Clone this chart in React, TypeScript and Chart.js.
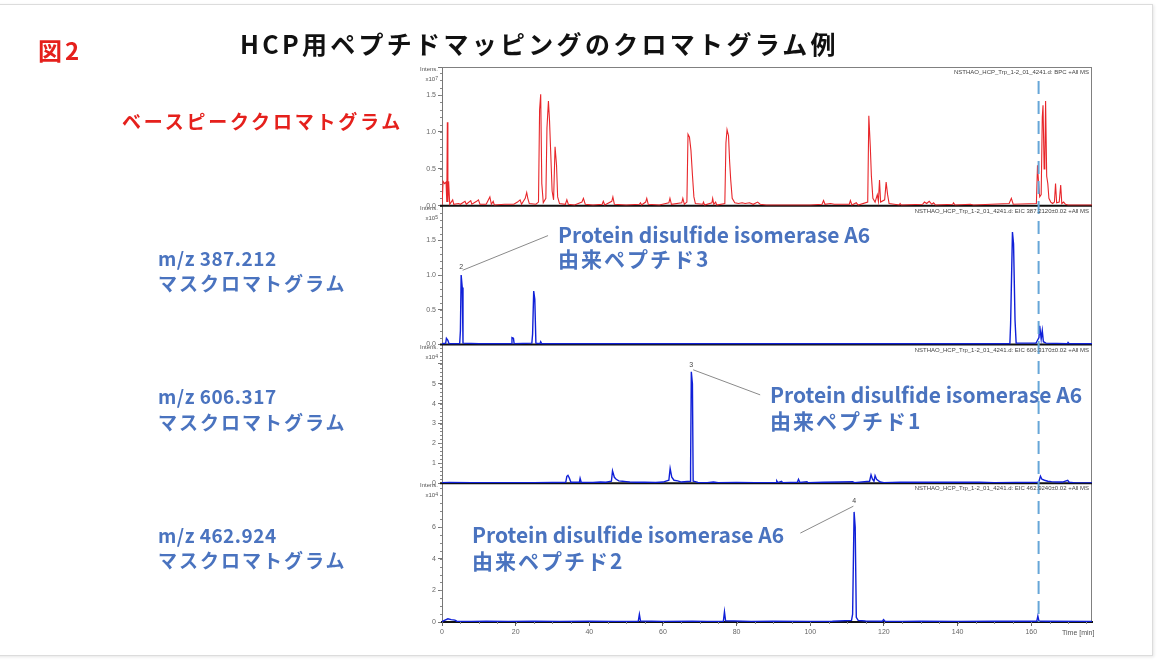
import React, { useEffect, useRef } from 'react';
import { Chart, registerables } from 'chart.js';

Chart.register(...registerables);

// ---------------- data ----------------
const timeMin = 0;
const timeMax = 176.5;
const timeStep = 20;
const markerTime = 162;

// Base peak chromatogram (intensity x10^7)
const bpcPoints: [number, number][] = [
  [0, 0.01], [0.3, 0.33], [0.7, 0.3], [1.1, 0.32], [1.3, 0.05], [1.45, 1.13], [1.6, 0.05], [1.8, 0.33], [2.1, 0.02],
  [2.9, 0.08], [3.2, 0.02], [4.5, 0.03], [5.0, 0.02], [6.25, 0.06], [6.6, 0.02], [7.8, 0.07], [8.1, 0.02], [9.4, 0.06],
  [9.9, 0.08], [10.3, 0.02], [12.0, 0.02], [13.0, 0.12], [13.4, 0.02], [13.9, 0.06], [14.2, 0.01], [17, 0.02], [19.5, 0.02],
  [20.5, 0.05], [21.2, 0.08], [21.6, 0.02], [22.6, 0.1], [23.0, 0.18], [23.3, 0.1], [23.7, 0.03], [25.5, 0.02],
  [26.2, 0.05], [26.5, 1.3], [26.8, 1.51], [27.1, 0.3], [27.5, 0.04], [28.2, 0.1], [28.5, 1.05], [28.9, 1.42], [29.2, 1.15],
  [29.5, 0.75], [29.9, 0.2], [30.3, 0.08], [30.7, 0.8], [31.1, 0.55], [31.4, 0.12], [31.9, 0.03],
  [33.5, 0.02], [33.9, 0.08], [34.3, 0.02], [36, 0.01], [38.0, 0.05], [38.4, 0.1], [38.9, 0.02], [41, 0.01], [43.5, 0.02],
  [43.8, 0.06], [44.2, 0.01], [46.1, 0.06], [46.4, 0.12], [46.8, 0.02], [50, 0.01], [53.6, 0.02], [53.9, 0.04], [54.2, 0.01],
  [55.3, 0.05], [55.6, 0.1], [56.0, 0.02], [59, 0.01], [61.6, 0.04], [61.9, 0.1], [62.3, 0.02], [65.1, 0.04], [65.4, 0.1], [65.8, 0.02],
  [66.5, 0.05], [66.8, 0.97], [67.2, 0.93], [67.6, 0.75], [68.0, 0.42], [68.4, 0.12], [68.8, 0.03],
  [70.8, 0.02], [71.0, 0.05], [71.3, 0.01], [73.3, 0.04], [73.5, 0.1], [73.8, 0.02], [74.3, 0.05], [74.6, 0.01],
  [76.8, 0.03], [77.1, 0.85], [77.4, 1.03], [77.8, 0.95], [78.1, 0.6], [78.4, 0.35], [78.8, 0.1], [79.5, 0.04], [80.5, 0.03],
  [81.5, 0.04], [82.3, 0.03], [83.5, 0.04], [84.5, 0.02], [85.7, 0.05], [86.4, 0.02], [88, 0.01],
  [95, 0.01], [100, 0.01], [103.2, 0.02], [103.6, 0.07], [104, 0.02], [105.5, 0.03], [106.5, 0.02], [110.6, 0.02], [110.9, 0.07],
  [111.3, 0.01], [112.5, 0.04], [113, 0.01],
  [115.6, 0.05], [115.9, 1.22], [116.3, 0.8], [116.6, 0.4], [117, 0.1], [117.6, 0.05], [118.2, 0.15], [118.5, 0.06], [118.8, 0.35],
  [119.1, 0.05], [120.2, 0.08], [120.6, 0.32], [121.0, 0.15], [121.4, 0.03],
  [124.2, 0.01], [124.4, 0.03], [124.7, 0.01], [130.5, 0.02], [131, 0.05], [131.6, 0.03], [132.3, 0.06], [133.0, 0.02], [133.5, 0.04],
  [134, 0.01], [138.7, 0.02], [138.9, 0.04], [139.3, 0.01], [143.5, 0.02], [144.3, 0.01], [154, 0.03], [154.6, 0.1], [155.1, 0.02],
  [161.4, 0.03], [161.7, 0.55], [162.0, 0.3], [162.3, 0.12], [162.7, 0.15], [163.0, 1.2], [163.2, 1.36], [163.5, 0.5], [163.7, 0.6],
  [163.9, 1.42], [164.2, 0.4], [164.5, 0.3], [164.8, 0.1], [165.3, 0.05], [165.8, 0.03], [166.3, 0.05], [166.6, 0.3], [166.9, 0.04],
  [167.6, 0.05], [168.0, 0.28], [168.3, 0.03], [168.8, 0.05], [169.3, 0.02], [170, 0.01], [176.5, 0.01],
];

// EIC m/z 387.212 (intensity x10^5)
const eic387Points: [number, number][] = [
  [0, 0.01], [1.0, 0.02], [1.2, 0.09], [1.6, 0.06], [1.9, 0.01], [4.8, 0.01], [5.0, 0.2], [5.2, 1.0], [5.5, 0.82], [5.7, 0.02],
  [10, 0.01], [18.8, 0.01], [19.0, 0.1], [19.4, 0.09], [19.6, 0.01], [24.4, 0.02], [24.6, 0.15], [24.9, 0.77], [25.2, 0.65],
  [25.5, 0.02], [26.6, 0.01], [26.8, 0.04], [27.1, 0.01], [40, 0.01], [100, 0.01], [154.2, 0.01], [154.4, 0.3], [154.9, 1.62],
  [155.2, 1.45], [155.6, 0.35], [155.9, 0.02], [161.3, 0.02], [161.6, 0.05], [162.1, 0.1], [162.3, 0.27], [162.7, 0.08],
  [163.0, 0.2], [163.3, 0.04], [164, 0.02], [169.8, 0.01], [170, 0.03], [170.3, 0.01], [176.5, 0.01],
];

// EIC m/z 606.317 (intensity x10^4)
const eic606Points: [number, number][] = [
  [0, 0.03], [2, 0.04], [8, 0.03], [15, 0.03], [25, 0.03], [30, 0.04], [33.6, 0.05], [33.9, 0.35], [34.2, 0.4], [34.6, 0.25],
  [35.0, 0.05], [37.3, 0.05], [37.5, 0.25], [37.8, 0.05], [41, 0.04], [43, 0.06], [44.5, 0.05], [46.0, 0.1], [46.3, 0.62],
  [46.8, 0.3], [47.3, 0.2], [48, 0.12], [49, 0.1], [50, 0.08], [51, 0.06], [53, 0.05], [55, 0.05], [58, 0.04], [60, 0.06],
  [61.6, 0.15], [61.95, 0.74], [62.4, 0.3], [63, 0.15], [64, 0.12], [65, 0.06], [67.4, 0.1], [67.5, 0.8], [67.7, 5.6], [68.0, 5.0],
  [68.2, 0.1], [68.8, 0.08], [69.5, 0.04], [72, 0.03], [73.7, 0.06], [75, 0.03], [80, 0.04], [85, 0.03], [90.7, 0.03], [90.9, 0.12],
  [91.2, 0.03], [92.2, 0.1], [92.5, 0.03], [96.5, 0.05], [96.8, 0.2], [97.2, 0.04], [99.1, 0.08], [99.4, 0.03], [103.5, 0.05],
  [107.7, 0.06], [111.5, 0.08], [112, 0.03], [116.1, 0.1], [116.5, 0.42], [116.9, 0.2], [117.3, 0.1], [117.6, 0.38], [118, 0.2],
  [119, 0.06], [120, 0.03], [124.4, 0.05], [131, 0.05], [140, 0.05], [146, 0.05], [150, 0.03], [161.8, 0.05], [162.1, 0.1],
  [162.5, 0.35], [162.9, 0.2], [163.6, 0.15], [164.5, 0.1], [165.5, 0.08], [167, 0.06], [168.5, 0.06], [169.9, 0.15], [170.3, 0.05],
  [172, 0.02], [176.5, 0.02],
];

// EIC m/z 462.924 (intensity x10^4)
const eic462Points: [number, number][] = [
  [0, 0.03], [1.6, 0.2], [2.5, 0.15], [3.5, 0.12], [4, 0.05], [8, 0.04], [12, 0.05], [18, 0.04], [25, 0.05], [32, 0.04],
  [40, 0.05], [47, 0.04], [53.3, 0.05], [53.6, 0.48], [53.9, 0.06], [60, 0.04], [68, 0.05], [72, 0.04], [76.4, 0.05],
  [76.7, 0.65], [77.0, 0.08], [84, 0.04], [90, 0.05], [100, 0.04], [106, 0.05], [111.2, 0.1], [111.5, 0.5], [111.9, 6.96],
  [112.2, 6.0], [112.5, 0.3], [113, 0.1], [115, 0.06], [119.6, 0.05], [119.9, 0.15], [120.3, 0.05], [125, 0.04], [130, 0.05],
  [140, 0.04], [150, 0.05], [161.5, 0.05], [161.8, 0.38], [162.1, 0.06], [164, 0.05], [176.5, 0.03],
];

const panelMax = [1.88, 2.0, 6.97, 8.77];
const panelStep = [0.5, 0.5, 1, 2];
const panelTopLabel = [1.5, 1.5, 5, 6];
const panelDecimals = [1, 1, 0, 0];
const panelMinorStep = [0.1, 0.1, 0.2, 0.5];
const panelExponent = ['7', '5', '4', '4'];
const panelHeaders = [
  'NSTHAO_HCP_Trp_1-2_01_4241.d: BPC +All MS',
  'NSTHAO_HCP_Trp_1-2_01_4241.d: EIC 387.2120±0.02 +All MS',
  'NSTHAO_HCP_Trp_1-2_01_4241.d: EIC 606.3170±0.02 +All MS',
  'NSTHAO_HCP_Trp_1-2_01_4241.d: EIC 462.9240±0.02 +All MS',
];
const xMinorStep = 5;

const peakLabels = [
  { panel: 'y2', time: 5.2, value: 1.12, text: '2' },
  { panel: 'y3', time: 67.7, value: 5.95, text: '3' },
  { panel: 'y4', time: 111.9, value: 7.7, text: '4' },
];

const leaderLines = [
  { panel: 'y2', from: [5.6, 1.07], to: [28.8, 1.57] },
  { panel: 'y3', from: [68.2, 5.7], to: [86.4, 4.44] },
  { panel: 'y4', from: [111.7, 7.32], to: [97.3, 5.62] },
];

// ---------------- layout constants ----------------
const W = 1158;
const H = 660;
const PLOT_LEFT = 442;
const PLOT_RIGHT = 1092;
const PLOT_TOP = 67;
const PLOT_BOTTOM = 622;
const AXIS_W = 30;
const XAXIS_H = 20;
const panelH = (PLOT_BOTTOM - PLOT_TOP) / 4;
const panelTops = [0, 1, 2, 3].map((i) => PLOT_TOP + i * panelH);
const yIds = ['y1', 'y2', 'y3', 'y4'];

const RED = '#e5201c';
const BLUE_TXT = '#4a73bf';

const overlayPlugin = {
  id: 'overlay',
  beforeDatasetsDraw(chart: any) {
    const ctx = chart.ctx;
    const { left, right, top, bottom } = chart.chartArea;
    ctx.save();
    ctx.strokeStyle = '#808080';
    ctx.lineWidth = 1;
    ctx.beginPath();
    ctx.moveTo(left, top + 0.5);
    ctx.lineTo(right, top + 0.5);
    ctx.moveTo(right - 0.5, top);
    ctx.lineTo(right - 0.5, bottom);
    ctx.stroke();
    // minor ticks on y axes
    ctx.strokeStyle = '#888';
    ctx.lineWidth = 1;
    yIds.forEach((id, i) => {
      const s = chart.scales[id];
      ctx.beginPath();
      const n = Math.floor(panelMax[i] / panelMinorStep[i] + 1e-6);
      for (let k = 1; k <= n; k++) {
        const py = Math.round(s.getPixelForValue(k * panelMinorStep[i])) + 0.5;
        ctx.moveTo(left - 2, py);
        ctx.lineTo(left, py);
      }
      ctx.stroke();
    });
    // minor ticks on x axis
    const xs = chart.scales.x;
    ctx.beginPath();
    for (let t = timeMin + xMinorStep; t < timeMax; t += xMinorStep) {
      const px = Math.round(xs.getPixelForValue(t)) + 0.5;
      ctx.moveTo(px, bottom);
      ctx.lineTo(px, bottom + 2);
    }
    ctx.stroke();
    ctx.strokeStyle = '#111';
    ctx.lineWidth = 2;
    ['y1', 'y2', 'y3'].forEach((id) => {
      const s = chart.scales[id];
      const py = s.getPixelForValue(0);
      ctx.beginPath();
      ctx.moveTo(left - 2, py);
      ctx.lineTo(right, py);
      ctx.stroke();
    });
    ctx.restore();
  },
  afterDatasetsDraw(chart: any) {
    const ctx = chart.ctx;
    const { top, bottom } = chart.chartArea;
    const xs = chart.scales.x;
    ctx.save();
    const mx = xs.getPixelForValue(markerTime);
    ctx.strokeStyle = '#66a6d8';
    ctx.lineWidth = 2;
    ctx.setLineDash([13, 7]);
    ctx.beginPath();
    ctx.moveTo(mx, top + 14);
    ctx.lineTo(mx, bottom);
    ctx.stroke();
    ctx.setLineDash([]);
    ctx.strokeStyle = '#8a8a8a';
    ctx.lineWidth = 1;
    leaderLines.forEach((l) => {
      const ys = chart.scales[l.panel];
      ctx.beginPath();
      ctx.moveTo(xs.getPixelForValue(l.from[0]), ys.getPixelForValue(l.from[1]));
      ctx.lineTo(xs.getPixelForValue(l.to[0]), ys.getPixelForValue(l.to[1]));
      ctx.stroke();
    });
    ctx.fillStyle = '#444';
    ctx.font = '7px "Liberation Sans", Arial, sans-serif';
    ctx.textAlign = 'center';
    ctx.textBaseline = 'bottom';
    peakLabels.forEach((p) => {
      const ys = chart.scales[p.panel];
      ctx.fillText(p.text, xs.getPixelForValue(p.time), ys.getPixelForValue(p.value) + 4);
    });
    ctx.restore();
  },
};

function yScale(i: number) {
  return {
    type: 'linear',
    position: 'left',
    stack: 'panels',
    stackWeight: 1,
    min: 0,
    max: panelMax[i],
    border: { display: true, color: '#777', width: 1 },
    grid: { drawOnChartArea: false, drawTicks: true, tickLength: 4, color: '#777' },
    ticks: {
      stepSize: panelStep[i],
      autoSkip: false,
      color: '#666',
      padding: 2,
      font: { size: 7, family: '"Liberation Sans", Arial, sans-serif' },
      callback: (v: number) => (v > panelTopLabel[i] + 1e-9 ? '' : Number(v).toFixed(panelDecimals[i])),
    },
    afterFit: (s: any) => {
      s.width = AXIS_W;
    },
  };
}

function ChromChart() {
  const ref = useRef<HTMLCanvasElement | null>(null);
  useEffect(() => {
    if (!ref.current) return;
    const toXY = (pts: [number, number][]) => pts.map(([x, y]) => ({ x, y }));
    const chart = new Chart(ref.current, {
      type: 'line',
      data: {
        datasets: [
          { label: 'BPC', data: toXY(bpcPoints), yAxisID: 'y1', borderColor: '#e8262a', borderWidth: 1.1, pointRadius: 0, tension: 0 },
          { label: 'EIC 387.212', data: toXY(eic387Points), yAxisID: 'y2', borderColor: '#1020d8', borderWidth: 1.4, pointRadius: 0, tension: 0 },
          { label: 'EIC 606.317', data: toXY(eic606Points), yAxisID: 'y3', borderColor: '#1020d8', borderWidth: 1.4, pointRadius: 0, tension: 0 },
          { label: 'EIC 462.924', data: toXY(eic462Points), yAxisID: 'y4', borderColor: '#1020d8', borderWidth: 1.4, pointRadius: 0, tension: 0 },
        ],
      },
      options: {
        responsive: false,
        animation: false,
        devicePixelRatio: 1,
        layout: {
          padding: { left: PLOT_LEFT - AXIS_W, right: W - PLOT_RIGHT, top: PLOT_TOP, bottom: H - PLOT_BOTTOM - XAXIS_H },
        },
        plugins: { legend: { display: false }, tooltip: { enabled: false } },
        scales: {
          x: {
            type: 'linear',
            min: timeMin,
            max: timeMax,
            border: { display: true, color: '#111', width: 2 },
            grid: { drawOnChartArea: false, drawTicks: true, tickLength: 4, color: '#666' },
            ticks: {
              stepSize: timeStep,
              includeBounds: false,
              autoSkip: false,
              maxRotation: 0,
              color: '#666',
              padding: 2,
              font: { size: 7, family: '"Liberation Sans", Arial, sans-serif' },
            },
            afterFit: (s: any) => {
              s.height = XAXIS_H;
            },
          },
          y4: yScale(3),
          y3: yScale(2),
          y2: yScale(1),
          y1: yScale(0),
        } as any,
      },
      plugins: [overlayPlugin],
    } as any);
    return () => chart.destroy();
  }, []);
  return <canvas ref={ref} width={W} height={H} style={{ position: 'absolute', left: 0, top: 0, width: W, height: H }} />;
}

const jp = '"Noto Sans CJK JP", "Noto Sans", sans-serif';
const tiny = '"Liberation Sans", Arial, sans-serif';

function Txt(props: { x: number; cy: number; size: number; color: string; weight?: number; ls?: number; children: any }) {
  return (
    <div
      style={{
        position: 'absolute',
        left: props.x,
        top: props.cy - props.size / 2,
        fontSize: props.size,
        lineHeight: `${props.size}px`,
        color: props.color,
        fontWeight: props.weight ?? 700,
        letterSpacing: props.ls ?? 0,
        whiteSpace: 'nowrap',
        fontFamily: jp,
      }}
    >
      {props.children}
    </div>
  );
}

export default function App() {
  return (
    <div style={{ position: 'absolute', left: 0, top: 0, width: W, height: H, background: '#fff', overflow: 'hidden' }}>
      <div style={{ position: 'absolute', left: -4, top: 4, width: 1155, height: 650, border: '1px solid #dcdcdc', boxShadow: '1px 1px 3px #e6e6e6' }} />
      <ChromChart />
      <Txt x={38} cy={50} size={24} color={RED} ls={3}>図2</Txt>
      <Txt x={240} cy={43} size={25} color="#111" ls={3.3}>HCP用ペプチドマッピングのクロマトグラム例</Txt>
      <Txt x={122} cy={120} size={19} color={RED} ls={2.8}>ベースピーククロマトグラム</Txt>

      <Txt x={158} cy={257} size={19} color={BLUE_TXT} weight={700} ls={0.5}>m/z 387.212</Txt>
      <Txt x={158} cy={282} size={19} color={BLUE_TXT} weight={700} ls={2}>マスクロマトグラム</Txt>
      <Txt x={158} cy={395} size={19} color={BLUE_TXT} weight={700} ls={0.5}>m/z 606.317</Txt>
      <Txt x={158} cy={421} size={19} color={BLUE_TXT} weight={700} ls={2}>マスクロマトグラム</Txt>
      <Txt x={158} cy={534} size={19} color={BLUE_TXT} weight={700} ls={0.5}>m/z 462.924</Txt>
      <Txt x={158} cy={559} size={19} color={BLUE_TXT} weight={700} ls={2}>マスクロマトグラム</Txt>

      <Txt x={558} cy={234} size={21} color={BLUE_TXT} weight={700} ls={0}>Protein disulfide isomerase A6</Txt>
      <Txt x={558} cy={258} size={21} color={BLUE_TXT} weight={700} ls={2}>由来ペプチド3</Txt>
      <Txt x={770} cy={394} size={21} color={BLUE_TXT} weight={700} ls={0}>Protein disulfide isomerase A6</Txt>
      <Txt x={770} cy={420} size={21} color={BLUE_TXT} weight={700} ls={2}>由来ペプチド1</Txt>
      <Txt x={472} cy={534} size={21} color={BLUE_TXT} weight={700} ls={0}>Protein disulfide isomerase A6</Txt>
      <Txt x={472} cy={560} size={21} color={BLUE_TXT} weight={700} ls={2}>由来ペプチド2</Txt>

      {panelTops.map((t, i) => (
        <React.Fragment key={i}>
          <div style={{ position: 'absolute', left: 400, width: 38, top: t - 1, textAlign: 'right', fontFamily: tiny, fontSize: 6, lineHeight: '7px', color: '#555' }}>Intens.</div>
          <div style={{ position: 'absolute', left: 400, width: 38, top: t + 9, textAlign: 'right', fontFamily: tiny, fontSize: 6, lineHeight: '7px', color: '#555' }}>
            x10<sup style={{ fontSize: 5, verticalAlign: 'top', lineHeight: '5px' }}>{panelExponent[i]}</sup>
          </div>
          <div style={{ position: 'absolute', left: 800, width: 289, top: t + 2, textAlign: 'right', fontFamily: tiny, fontSize: 6, lineHeight: '7px', color: '#444', whiteSpace: 'nowrap' }}>
            {panelHeaders[i]}
          </div>
        </React.Fragment>
      ))}
      <div style={{ position: 'absolute', left: 1062, top: 629, fontFamily: tiny, fontSize: 7, lineHeight: '8px', color: '#555' }}>Time [min]</div>
    </div>
  );
}
